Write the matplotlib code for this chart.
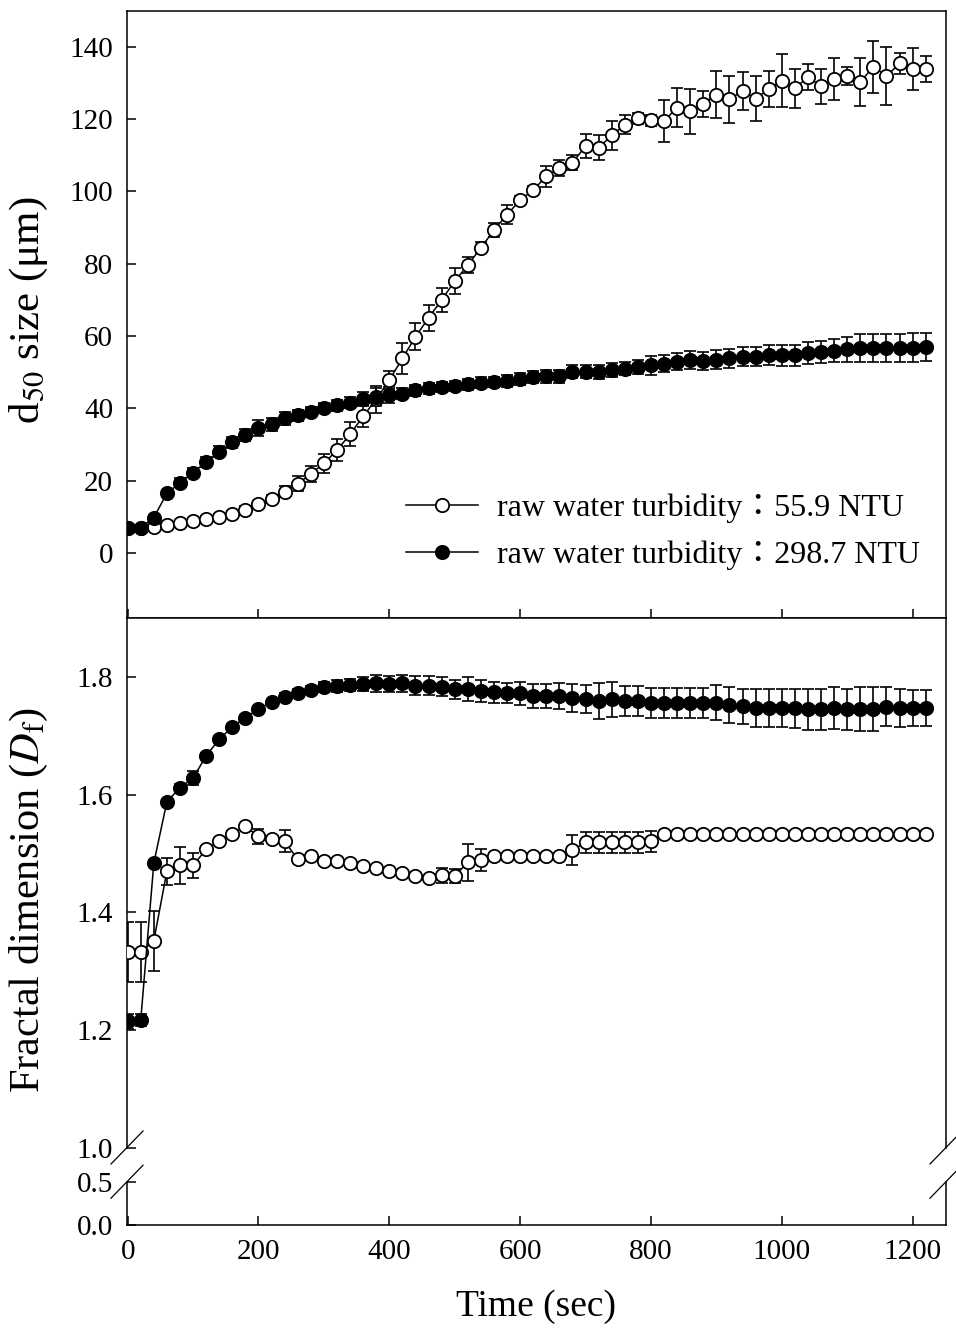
import matplotlib

matplotlib.use("Agg")
import matplotlib.pyplot as plt
from matplotlib.lines import Line2D
from matplotlib.font_manager import FontProperties

plt.rcParams["font.family"] = ["Liberation Serif", "DejaVu Serif"]
plt.rcParams["mathtext.fontset"] = "stix"

# sampling times (sec)
time_s = [
    0, 20, 40, 60, 80, 100, 120, 140, 160, 180, 200, 220, 240, 260, 280, 300,
    320, 340, 360, 380, 400, 420, 440, 460, 480, 500, 520, 540, 560, 580, 600, 620,
    640, 660, 680, 700, 720, 740, 760, 780, 800, 820, 840, 860, 880, 900, 920, 940,
    960, 980, 1000, 1020, 1040, 1060, 1080, 1100, 1120, 1140, 1160, 1180, 1200, 1220,
]

# d50 size (um), raw water 55.9 NTU (open circles)
d50_low = [
    7.0, 7.0, 7.2, 7.7, 8.2, 8.8, 9.4, 10.0, 10.9, 12.0, 13.4, 14.9, 16.9, 19.1, 21.9, 24.8,
    28.4, 32.8, 37.8, 42.5, 47.8, 53.8, 59.8, 65.0, 70.0, 75.2, 79.6, 84.4, 89.3, 93.6, 97.6, 100.4,
    104.2, 106.5, 108.0, 112.5, 112.1, 115.5, 118.5, 120.2, 119.7, 119.5, 123.2, 122.2, 124.3, 126.8, 125.5, 127.8,
    125.7, 128.3, 130.6, 128.5, 131.7, 129.1, 131.2, 131.9, 130.3, 134.5, 131.9, 135.4, 133.8, 134.0,
]
d50_low_err = [
    0.5, 0.5, 0.5, 0.6, 0.6, 0.7, 0.7, 0.8, 0.8, 1.0, 1.0, 1.2, 1.5, 2.1, 2.2, 2.6,
    3.0, 3.3, 2.9, 3.7, 2.5, 4.2, 3.8, 3.5, 3.4, 3.7, 2.2, 1.5, 2.0, 2.6, 1.2, 1.2,
    2.9, 2.2, 2.1, 3.3, 3.5, 3.9, 2.7, 1.5, 1.5, 5.9, 5.4, 6.2, 3.6, 6.5, 6.5, 5.2,
    6.1, 4.9, 7.3, 5.3, 3.5, 4.8, 5.8, 2.4, 6.6, 7.2, 8.0, 3.0, 5.8, 3.6,
]

# d50 size (um), raw water 298.7 NTU (filled circles)
d50_high = [
    7.0, 7.0, 9.8, 16.5, 19.4, 22.2, 25.2, 28.0, 30.6, 32.6, 34.6, 35.6, 37.3, 38.1, 39.0, 40.1,
    40.9, 41.5, 42.7, 43.2, 43.7, 44.1, 45.0, 45.5, 45.9, 46.2, 46.7, 47.1, 47.3, 47.6, 48.1, 48.6,
    48.9, 48.9, 50.1, 50.1, 50.1, 50.6, 51.0, 51.5, 51.9, 52.4, 52.9, 53.3, 53.2, 53.5, 53.8, 54.3,
    54.3, 54.7, 54.7, 54.7, 55.4, 55.6, 55.9, 56.3, 56.7, 56.7, 56.7, 56.7, 56.8, 57.0,
]
d50_high_err = [
    0.5, 0.5, 0.8, 1.0, 1.2, 1.3, 1.3, 1.5, 1.5, 1.7, 2.3, 1.8, 1.8, 1.5, 1.5, 1.5,
    1.5, 1.5, 1.8, 2.5, 2.2, 1.5, 1.5, 1.5, 1.5, 1.5, 1.5, 1.5, 1.5, 1.6, 1.6, 1.7,
    1.8, 1.8, 1.8, 1.8, 1.9, 1.9, 1.9, 2.0, 2.6, 2.4, 2.4, 2.5, 2.5, 2.6, 2.6, 2.7,
    2.7, 2.8, 2.9, 2.9, 3.0, 3.1, 3.2, 3.4, 3.8, 4.0, 4.0, 4.0, 4.0, 3.9,
]

# fractal dimension Df, 55.9 NTU (open)
df_low = [
    1.333, 1.333, 1.352, 1.470, 1.480, 1.480, 1.507, 1.521, 1.534, 1.546, 1.529, 1.525, 1.521, 1.490, 1.495, 1.488,
    1.488, 1.484, 1.479, 1.476, 1.471, 1.467, 1.462, 1.459, 1.463, 1.462, 1.485, 1.489, 1.496, 1.496, 1.495, 1.495,
    1.495, 1.495, 1.506, 1.519, 1.519, 1.519, 1.519, 1.519, 1.521, 1.534, 1.534, 1.534, 1.534, 1.534, 1.534, 1.534,
    1.534, 1.534, 1.534, 1.534, 1.534, 1.534, 1.534, 1.534, 1.534, 1.534, 1.534, 1.534, 1.534, 1.534,
]
df_low_err = [
    0.051, 0.051, 0.051, 0.023, 0.031, 0.021, 0.006, 0.005, 0.005, 0.004, 0.013, 0.005, 0.019, 0.006, 0.004, 0.004,
    0.003, 0.003, 0.003, 0.003, 0.003, 0.003, 0.003, 0.003, 0.013, 0.012, 0.031, 0.019, 0.003, 0.003, 0.003, 0.003,
    0.003, 0.003, 0.025, 0.018, 0.018, 0.018, 0.018, 0.018, 0.018, 0.002, 0.002, 0.002, 0.002, 0.002, 0.002, 0.002,
    0.002, 0.002, 0.002, 0.002, 0.002, 0.002, 0.002, 0.002, 0.002, 0.002, 0.002, 0.002, 0.002, 0.002,
]

# fractal dimension Df, 298.7 NTU (filled)
df_high = [
    1.215, 1.217, 1.484, 1.588, 1.612, 1.628, 1.666, 1.694, 1.715, 1.731, 1.745, 1.758, 1.766, 1.773, 1.778, 1.783,
    1.785, 1.786, 1.788, 1.789, 1.788, 1.789, 1.785, 1.785, 1.783, 1.779, 1.779, 1.776, 1.774, 1.773, 1.772, 1.768,
    1.768, 1.768, 1.764, 1.762, 1.759, 1.762, 1.759, 1.759, 1.756, 1.756, 1.756, 1.756, 1.756, 1.756, 1.752, 1.750,
    1.747, 1.747, 1.747, 1.747, 1.745, 1.745, 1.747, 1.745, 1.745, 1.745, 1.749, 1.747, 1.747, 1.747,
]
df_high_err = [
    0.013, 0.010, 0.005, 0.005, 0.006, 0.012, 0.005, 0.005, 0.005, 0.005, 0.005, 0.005, 0.006, 0.006, 0.006, 0.008,
    0.010, 0.010, 0.012, 0.014, 0.014, 0.015, 0.016, 0.016, 0.016, 0.016, 0.020, 0.018, 0.018, 0.017, 0.020, 0.020,
    0.020, 0.022, 0.024, 0.024, 0.030, 0.030, 0.025, 0.025, 0.025, 0.025, 0.025, 0.025, 0.025, 0.030, 0.030, 0.030,
    0.032, 0.032, 0.032, 0.033, 0.035, 0.035, 0.035, 0.035, 0.037, 0.037, 0.033, 0.032, 0.030, 0.030,
]

legend_labels = ["raw water turbidity：55.9 NTU", "raw water turbidity：298.7 NTU"]
x_ticks = [0, 200, 400, 600, 800, 1000, 1200]

W, H = 956, 1330
TICK_FS = 21
LW = 1.1
MS = 9.6


def px_rect(x0, y0, x1, y1):
    """pixel box (top-left origin) -> figure fraction rect"""
    return [x0 / W, 1 - y1 / H, (x1 - x0) / W, (y1 - y0) / H]


def draw_series(ax, x, y, err, filled):
    face = "black" if filled else "white"
    ax.errorbar(x, y, yerr=err, fmt="none", ecolor="black", elinewidth=1.2,
                capsize=4.5, capthick=1.2, zorder=2)
    ax.plot(x, y, color="black", lw=1.1, marker="o", ms=MS, mfc=face,
            mec="black", mew=1.3, zorder=3 if not filled else 4)


def style_axis(ax):
    for sp in ax.spines.values():
        sp.set_linewidth(LW)
    ax.tick_params(direction="in", length=6.5, width=LW, labelsize=TICK_FS,
                   top=False, right=False, pad=10)
    ax.set_xlim(-1, 1251)
    ax.set_xticks(x_ticks)


fig = plt.figure(figsize=(W / 100, H / 100), dpi=100)

# top panel: d50
ax1 = fig.add_axes(px_rect(127, 10.7, 946, 618))
style_axis(ax1)
draw_series(ax1, time_s, d50_low, d50_low_err, filled=False)
draw_series(ax1, time_s, d50_high, d50_high_err, filled=True)
ax1.set_ylim(-18, 150)
ax1.set_yticks([0, 20, 40, 60, 80, 100, 120, 140])
ax1.tick_params(axis="x", labelbottom=False)

handles = [
    Line2D([], [], color="black", lw=1.1, marker="o", ms=MS, mfc="white", mec="black", mew=1.3),
    Line2D([], [], color="black", lw=1.1, marker="o", ms=MS, mfc="black", mec="black", mew=1.3),
]
leg_font = FontProperties(family=["Liberation Serif", "Noto Sans CJK TC"], size=23)
ax1.legend(handles, legend_labels, prop=leg_font, frameon=False,
           loc="center left", bbox_to_anchor=(406 / W, 1 - 532 / H),
           bbox_transform=fig.transFigure, borderpad=0, borderaxespad=0,
           handlelength=2.25, handletextpad=0.6, labelspacing=0.55)

# bottom panel: Df (upper part 1.0-1.9)
ax2 = fig.add_axes(px_rect(127, 618, 946, 1148))
style_axis(ax2)
draw_series(ax2, time_s, df_low, df_low_err, filled=False)
draw_series(ax2, time_s, df_high, df_high_err, filled=True)
ax2.set_ylim(1.0, 1.9)
ax2.set_yticks([1.0, 1.2, 1.4, 1.6, 1.8])
ax2.set_yticklabels(["1.0", "1.2", "1.4", "1.6", "1.8"])
ax2.spines["bottom"].set_visible(False)
ax2.tick_params(axis="x", bottom=False, labelbottom=False)

# bottom panel: broken lower part 0.0-0.5
ax3 = fig.add_axes(px_rect(127, 1181.7, 946, 1225))
style_axis(ax3)
ax3.set_ylim(0.0, 0.5)
ax3.set_yticks([0.0, 0.5])
ax3.set_yticklabels(["0.0", "0.5"])
ax3.spines["top"].set_visible(False)
ax3.set_xticklabels([str(v) for v in x_ticks])

# break marks
for xs in (127, 946):
    for ys in (1147.5, 1181.7):
        fig.add_artist(Line2D([(xs - 16) / W, (xs + 16) / W],
                              [1 - (ys + 16.5) / H, 1 - (ys - 16.5) / H],
                              transform=fig.transFigure, color="black", lw=0.9))

fig.text(29 / W, 1 - 310 / H, "d$_{50}$ size (μm)", rotation=90,
         ha="center", va="center", fontsize=31)
fig.text(29 / W, 1 - 900 / H, "Fractal dimension ($\\mathit{D}_{\\mathrm{f}}$)", rotation=90,
         ha="center", va="center", fontsize=30.5)
fig.text(536 / W, 1 - 1307 / H, "Time (sec)", ha="center", va="center", fontsize=27)

fig.savefig("out.png", dpi=100)
